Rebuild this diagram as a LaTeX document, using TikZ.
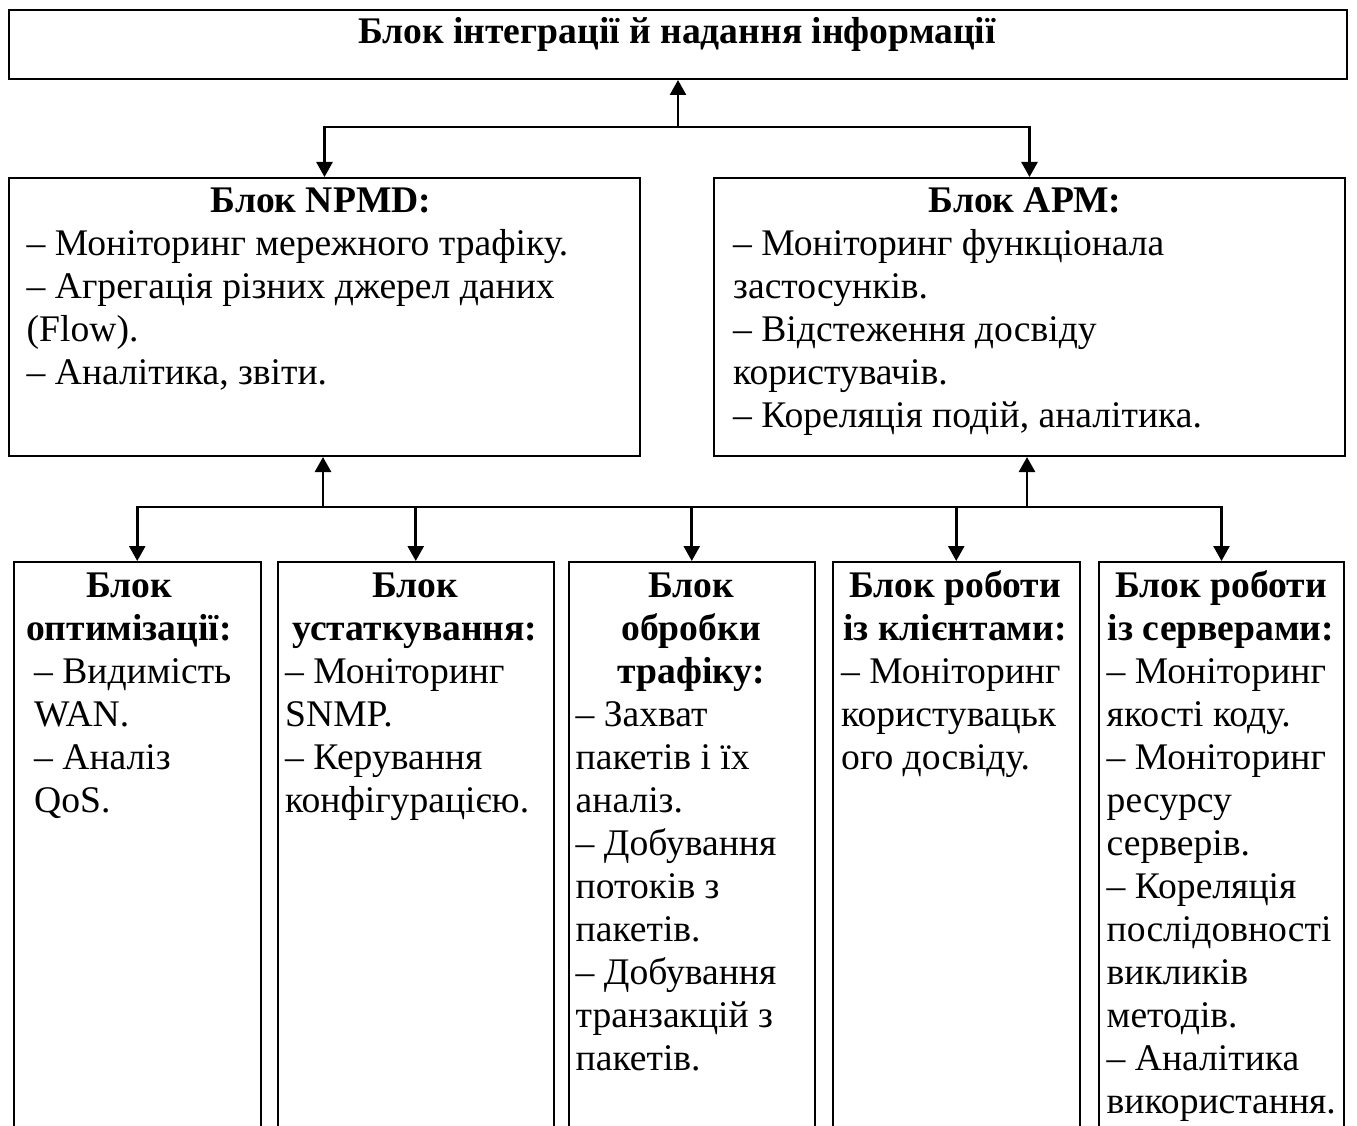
\documentclass[tikz,border=0pt]{standalone}
\usepackage{fontspec}
\setmainfont{Liberation Serif}
\usetikzlibrary{arrows.meta}

\tikzset{
  blockbox/.style={draw, line width=2pt, anchor=north west, inner sep=0pt},
  conn/.style={line width=2.6pt},
  tip/.style={conn, -{Triangle[length=15pt,width=16pt]}},
  bodytext/.style={anchor=base west, text width=#1, align=flush left, inner sep=0pt,
    font=\fontsize{37.6}{43}\selectfont},
  titletext/.style={anchor=base, text width=420pt, align=flush center, inner sep=0pt,
    font=\fontsize{37.6}{43}\selectfont\bfseries},
}

\begin{document}
\begin{tikzpicture}[x=1pt, y=-1pt]
\useasboundingbox (0,0) rectangle (1357,1126);
\clip (0,0) rectangle (1357,1126);

% boxes
\node[blockbox, minimum width=1338pt, minimum height=69pt] (top) at (8,9) {};
\node[blockbox, minimum width=631pt, minimum height=278pt] (npmd) at (8,177) {};
\node[blockbox, minimum width=631pt, minimum height=278pt] (apm) at (713,177) {};
\node[blockbox, minimum width=247.5pt, minimum height=620pt] (b1) at (12.5,561) {};
\node[blockbox, minimum width=276.5pt, minimum height=620pt] (b2) at (276.5,561) {};
\node[blockbox, minimum width=246.5pt, minimum height=620pt] (b3) at (567.5,561) {};
\node[blockbox, minimum width=246.5pt, minimum height=620pt] (b4) at (832,561) {};
\node[blockbox, minimum width=245pt, minimum height=620pt] (b5) at (1098,561) {};

% texts
\node[titletext, text width=1200pt] (topT) at (677,44) {Блок інтеграції й надання інформації};

\node[titletext] (npmdT) at (321,212) {Блок NPMD:};
\node[bodytext=600pt] (npmdB) at (26.5,255)
  {– Моніторинг мережного трафіку.\\– Агрегація різних джерел даних\\(Flow).\\– Аналітика, звіти.};

\node[titletext] (apmT) at (1025,212) {Блок АРМ:};
\node[bodytext=600pt] (apmB) at (733,255)
  {– Моніторинг функціонала\\застосунків.\\– Відстеження досвіду\\користувачів.\\– Кореляція подій, аналітика.};

\node[titletext] (b1T) at (129,597) {Блок\\оптимізації:};
\node[bodytext=300pt] (b1B) at (34,683) {– Видимість\\WAN.\\– Аналіз\\QoS.};

\node[titletext] (b2T) at (415,597) {Блок\\устаткування:};
\node[bodytext=300pt] (b2B) at (285,683) {– Моніторинг\\SNMP.\\– Керування\\конфігурацією.};

\node[titletext] (b3T) at (691,597) {Блок\\обробки\\трафіку:};
\node[bodytext=300pt] (b3B) at (575.5,726)
  {– Захват\\пакетів і їх\\аналіз.\\– Добування\\потоків з\\пакетів.\\– Добування\\транзакцій з\\пакетів.};

\node[titletext] (b4T) at (955,597) {Блок роботи\\із клієнтами:};
\node[bodytext=300pt] (b4B) at (841,683) {– Моніторинг\\користувацьк\\ого досвіду.};

\node[titletext] (b5T) at (1221,597) {Блок роботи\\із серверами:};
\node[bodytext=300pt] (b5B) at (1106.5,683)
  {– Моніторинг\\якості коду.\\– Моніторинг\\ресурсу\\серверів.\\– Кореляція\\послідовності\\викликів\\методів.\\– Аналітика\\використання.};

% junction points of the connector buses
\coordinate (jtop) at (678,127);
\coordinate (jnp) at (323,507);
\coordinate (jap) at (1027,507);

% upper level
\draw[tip] (jtop) -- (jtop |- top.south);
\draw[conn] (jtop -| npmd.north) -- (jtop -| apm.north);
\draw[tip] (jtop) -| (npmd.north);
\draw[tip] (jtop) -| (apm.north);

% lower level
\draw[conn] (jnp -| b1.north) -- (jnp -| b5.north);
\draw[tip] (jnp) -- (jnp |- npmd.south);
\draw[tip] (jap) -- (jap |- apm.south);
\draw[tip] (jnp) -| (b1.north);
\draw[tip] (jnp) -| (b2.north);
\draw[tip] (jnp) -| (b3.north);
\draw[tip] (jap) -| (b4.north);
\draw[tip] (jap) -| (b5.north);
\end{tikzpicture}
\end{document}
